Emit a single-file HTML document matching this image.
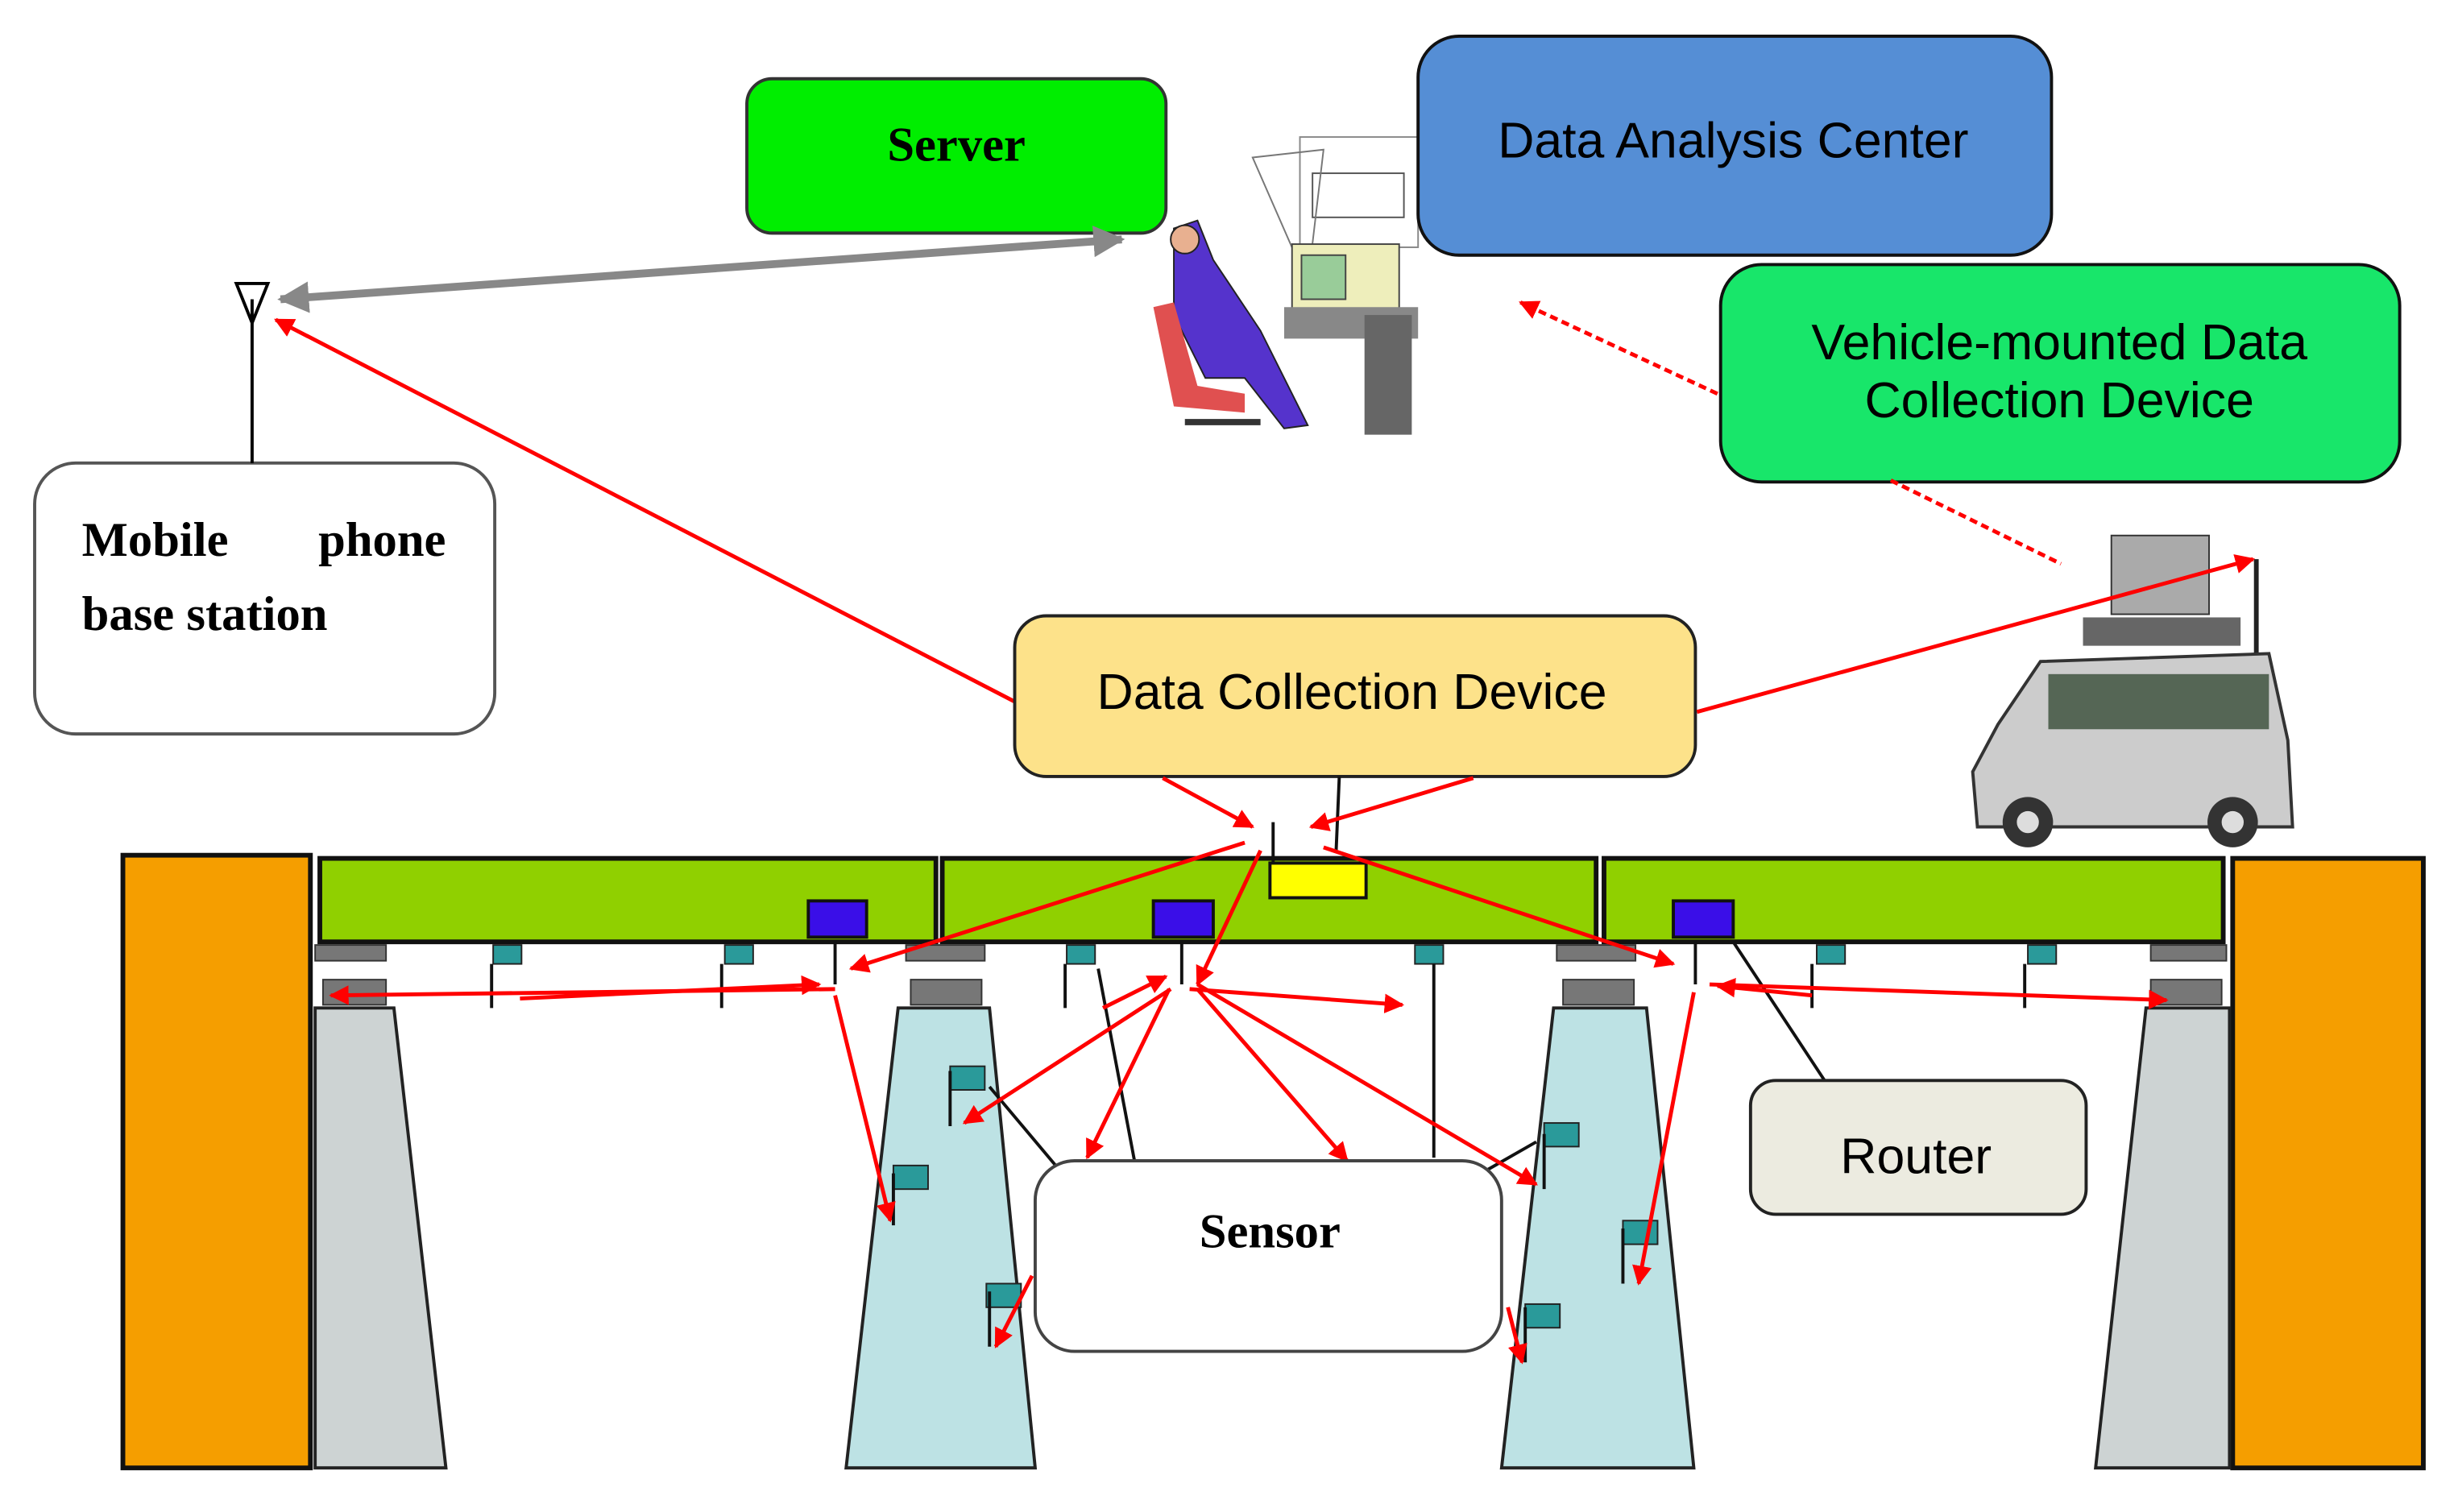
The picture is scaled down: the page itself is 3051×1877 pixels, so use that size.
<!DOCTYPE html>
<html><head><meta charset="utf-8"><style>html,body{margin:0;padding:0;background:#fff}svg{display:block}</style></head>
<body>
<svg width="3051" height="1877" viewBox="0 0 1560 960" preserveAspectRatio="none" xmlns="http://www.w3.org/2000/svg">
<defs>
<marker id="ar" viewBox="0 0 10 10" refX="9" refY="5" markerWidth="5" markerHeight="5" orient="auto-start-reverse"><path d="M0,0L10,5L0,10z" fill="#f00"/></marker>
<marker id="ag" viewBox="0 0 10 10" refX="9" refY="5" markerWidth="4" markerHeight="4" orient="auto-start-reverse"><path d="M0,0L10,5L0,10z" fill="#888"/></marker>
</defs>
<rect width="1560" height="960" fill="#fff"/>
<g font-family="Liberation Sans, sans-serif">
<!-- person/computer clipart -->
<rect x="825" y="87" width="75" height="70" fill="#fff" stroke="#888"/>
<rect x="833" y="110" width="58" height="28" fill="#fff" stroke="#555"/>
<path d="M795,100 L840,95 L830,180 Z" fill="none" stroke="#777"/>
<rect x="820" y="155" width="68" height="42" fill="#eeeebb" stroke="#444"/>
<rect x="826" y="162" width="28" height="28" fill="#9c9" stroke="#444"/>
<rect x="815" y="195" width="85" height="20" fill="#888"/>
<rect x="866" y="200" width="30" height="76" fill="#666"/>
<path d="M745,145 L760,140 L770,165 L800,210 L830,270 L815,272 L790,240 L765,240 L745,200 Z" fill="#5533cc" stroke="#222"/>
<circle cx="752" cy="152" r="9" fill="#e8b090" stroke="#222"/>
<path d="M732,195 L745,192 L760,245 L790,250 L790,262 L745,258 Z" fill="#e05050"/>
<path d="M752,268 L800,268" stroke="#333" stroke-width="4"/>
<!-- boxes top -->
<rect x="474" y="50" width="266" height="98" rx="16" fill="#00ee00" stroke="#333" stroke-width="2"/>
<text x="607" y="102" font-family="Liberation Serif, serif" font-weight="bold" font-size="31" text-anchor="middle">Server</text>
<rect x="900" y="23" width="402" height="139" rx="26" fill="#558ed5" stroke="#111" stroke-width="2"/>
<text x="1100" y="100" font-size="32" text-anchor="middle">Data Analysis Center</text>
<rect x="1092" y="168" width="431" height="138" rx="26" fill="#18e66a" stroke="#111" stroke-width="2"/>
<text x="1307" y="228" font-size="32" text-anchor="middle">Vehicle-mounted Data</text>
<text x="1307" y="265" font-size="32" text-anchor="middle">Collection Device</text>
<rect x="22" y="294" width="292" height="172" rx="26" fill="#fff" stroke="#555" stroke-width="2"/>
<text x="52" y="353" font-family="Liberation Serif, serif" font-weight="bold" font-size="31">Mobile</text>
<text x="283" y="353" font-family="Liberation Serif, serif" font-weight="bold" font-size="31" text-anchor="end">phone</text>
<text x="52" y="400" font-family="Liberation Serif, serif" font-weight="bold" font-size="31">base station</text>
<!-- antenna -->
<line x1="160" y1="190" x2="160" y2="294" stroke="#000" stroke-width="2"/>
<path d="M150,180 L170,180 L160,205 Z" fill="none" stroke="#000" stroke-width="2"/>
<line x1="178" y1="190" x2="712" y2="152" stroke="#888" stroke-width="5" marker-start="url(#ag)" marker-end="url(#ag)"/>
<line x1="645" y1="446" x2="175" y2="203" stroke="#f00" stroke-width="2.5" marker-end="url(#ar)"/>
<line x1="1090" y1="250" x2="965" y2="192" stroke="#f00" stroke-width="2.5" stroke-dasharray="5,3" marker-end="url(#ar)"/>
<line x1="1200" y1="305" x2="1308" y2="358" stroke="#f00" stroke-width="2.5" stroke-dasharray="5,3"/>
<!-- car -->
<rect x="1340" y="340" width="62" height="50" fill="#aaa" stroke="#333"/>
<rect x="1322" y="392" width="100" height="18" fill="#666"/>
<line x1="1432" y1="355" x2="1432" y2="430" stroke="#222" stroke-width="3"/>
<path d="M1268,460 L1295,420 L1440,415 L1452,470 L1455,525 L1255,525 L1252,490 Z" fill="#ccc" stroke="#333" stroke-width="2"/>
<rect x="1300" y="428" width="140" height="35" fill="#556655"/>
<circle cx="1287" cy="522" r="16" fill="#333"/><circle cx="1417" cy="522" r="16" fill="#333"/>
<circle cx="1287" cy="522" r="7" fill="#ddd"/><circle cx="1417" cy="522" r="7" fill="#ddd"/>
<rect x="644" y="391" width="432" height="102" rx="20" fill="#fde28a" stroke="#222" stroke-width="2"/>
<text x="858" y="450" font-size="32" text-anchor="middle">Data Collection Device</text>
<line x1="1077" y1="452" x2="1430" y2="355" stroke="#f00" stroke-width="2.5" marker-end="url(#ar)"/>
<!-- bridge -->
<rect x="78" y="543" width="119" height="389" fill="#f59e00" stroke="#111" stroke-width="3"/>
<rect x="1417" y="545" width="121" height="387" fill="#f59e00" stroke="#111" stroke-width="3"/>
<path d="M200,640 L250,640 L283,932 L200,932 Z" fill="#cdd3d3" stroke="#222" stroke-width="2"/>
<path d="M1362,640 L1415,640 L1415,932 L1330,932 Z" fill="#cdd3d3" stroke="#222" stroke-width="2"/>
<path d="M570,640 L628,640 L657,932 L537,932 Z" fill="#bde2e4" stroke="#222" stroke-width="2"/>
<path d="M986,640 L1045,640 L1075,932 L953,932 Z" fill="#bde2e4" stroke="#222" stroke-width="2"/>
<g fill="#90d000" stroke="#111" stroke-width="3">
<rect x="203" y="545" width="391" height="53"/><rect x="598" y="545" width="415" height="53"/><rect x="1018" y="545" width="393" height="53"/>
</g>
<g fill="#777" stroke="#333">
<rect x="200" y="600" width="45" height="10"/><rect x="205" y="622" width="40" height="16"/>
<rect x="575" y="600" width="50" height="10"/><rect x="578" y="622" width="45" height="16"/>
<rect x="988" y="600" width="50" height="10"/><rect x="992" y="622" width="45" height="16"/>
<rect x="1365" y="600" width="48" height="10"/><rect x="1365" y="622" width="45" height="16"/>
</g>
<g fill="#3a0ee8" stroke="#111" stroke-width="2">
<rect x="513" y="572" width="37" height="23"/><rect x="732" y="572" width="38" height="23"/><rect x="1062" y="572" width="38" height="23"/>
</g>
<rect x="806" y="548" width="61" height="22" fill="#ffff00" stroke="#111" stroke-width="2"/>
<g fill="#2a9a9a" stroke="#222">
<rect x="313" y="600" width="18" height="12"/><rect x="460" y="600" width="18" height="12"/><rect x="677" y="600" width="18" height="12"/>
<rect x="898" y="600" width="18" height="12"/><rect x="1153" y="600" width="18" height="12"/><rect x="1287" y="600" width="18" height="12"/>
<rect x="603" y="677" width="22" height="15"/><rect x="567" y="740" width="22" height="15"/><rect x="626" y="815" width="22" height="15"/>
<rect x="980" y="713" width="22" height="15"/><rect x="1030" y="775" width="22" height="15"/><rect x="968" y="828" width="22" height="15"/>
</g>
<g stroke="#111" stroke-width="2">
<line x1="312" y1="612" x2="312" y2="640"/><line x1="458" y1="612" x2="458" y2="640"/><line x1="530" y1="598" x2="530" y2="625"/>
<line x1="676" y1="612" x2="676" y2="640"/><line x1="750" y1="598" x2="750" y2="625"/><line x1="910" y1="612" x2="910" y2="735"/>
<line x1="1076" y1="598" x2="1076" y2="625"/><line x1="1150" y1="612" x2="1150" y2="640"/><line x1="1285" y1="612" x2="1285" y2="640"/>
<line x1="808" y1="522" x2="808" y2="548"/><line x1="850" y1="493" x2="848" y2="540"/>
<line x1="603" y1="680" x2="603" y2="715"/><line x1="567" y1="745" x2="567" y2="778"/><line x1="628" y1="820" x2="628" y2="855"/>
<line x1="980" y1="720" x2="980" y2="755"/><line x1="1030" y1="780" x2="1030" y2="815"/><line x1="968" y1="830" x2="968" y2="865"/>
<line x1="628" y1="690" x2="670" y2="740"/><line x1="697" y1="615" x2="720" y2="737"/><line x1="940" y1="745" x2="975" y2="725"/>
<line x1="1100" y1="598" x2="1158" y2="686"/>
</g>
<g stroke="#f00" stroke-width="2.5" fill="none" marker-end="url(#ar)">
<line x1="738" y1="494" x2="795" y2="525"/><line x1="935" y1="494" x2="832" y2="525"/>
<line x1="790" y1="535" x2="540" y2="615"/><line x1="840" y1="538" x2="1062" y2="612"/>
<line x1="800" y1="540" x2="760" y2="625"/>
<line x1="530" y1="628" x2="210" y2="632"/><line x1="330" y1="634" x2="520" y2="625"/>
<line x1="530" y1="632" x2="565" y2="775"/>
<line x1="743" y1="628" x2="612" y2="713"/><line x1="742" y1="628" x2="690" y2="735"/>
<line x1="755" y1="628" x2="890" y2="638"/><line x1="760" y1="628" x2="855" y2="737"/><line x1="760" y1="625" x2="975" y2="752"/>
<line x1="700" y1="640" x2="740" y2="620"/>
<line x1="1085" y1="625" x2="1375" y2="635"/><line x1="1150" y1="632" x2="1090" y2="626"/>
<line x1="1075" y1="630" x2="1040" y2="815"/>
<line x1="655" y1="810" x2="632" y2="855"/><line x1="957" y1="830" x2="966" y2="865"/>
</g>
<rect x="657" y="737" width="296" height="121" rx="25" fill="#fff" stroke="#444" stroke-width="2"/>
<text x="806" y="792" font-family="Liberation Serif, serif" font-weight="bold" font-size="31" text-anchor="middle">Sensor</text>
<rect x="1111" y="686" width="213" height="85" rx="16" fill="#ecebe0" stroke="#222" stroke-width="2"/>
<text x="1216" y="745" font-size="32" text-anchor="middle">Router</text>
</g>
</svg>
</body></html>
